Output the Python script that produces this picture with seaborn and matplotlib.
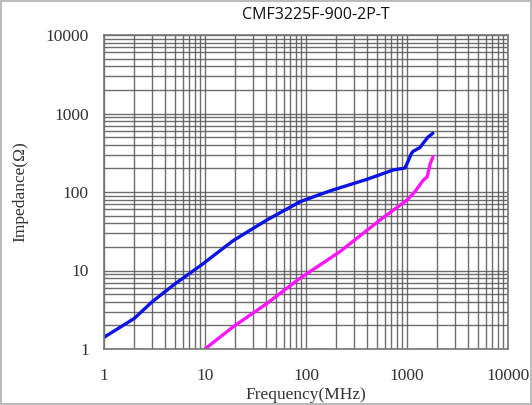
import matplotlib
matplotlib.use("Agg")
import matplotlib.pyplot as plt
import seaborn as sns
import pandas as pd
from matplotlib.ticker import LogLocator, FixedLocator, NullFormatter

title = "CMF3225F-900-2P-T"
x_label = "Frequency(MHz)"
y_label = "Impedance(Ω)"

blue_freq = [1, 1.5, 2, 3, 5, 9, 19, 41, 87, 137, 184, 401, 731, 953, 1030, 1100, 1143, 1348, 1450, 1618, 1805]
blue_imp = [1.41, 1.95, 2.46, 4.0, 6.7, 11.5, 24, 44, 75, 93, 106, 145, 191, 202, 250, 305, 328, 370, 421, 503, 560]

mag_freq = [10, 19, 41, 87, 217, 540, 1000, 1200, 1450, 1580, 1700, 1805]
mag_imp = [1.0, 1.92, 3.8, 7.95, 17.4, 44, 79, 101, 142, 155, 230, 279]

x_ticks = [1, 10, 100, 1000, 10000]
x_tick_labels = ["1", "10", "100", "1000", "10000"]
y_ticks = [1, 10, 100, 1000, 10000]
y_tick_labels = ["1", "10", "100", "1000", "10000"]

sns.set_style("white")
plt.rcParams['font.family'] = ['Liberation Serif', 'DejaVu Serif']

fig = plt.figure(figsize=(5.32, 4.05), dpi=100)
fig.patch.set_edgecolor("#bbbbbb")
fig.patch.set_linewidth(1.5)
ax = fig.add_axes([104/532, (405-349)/405, 404/532, 314/405])

df_b = pd.DataFrame({"f": blue_freq, "z": blue_imp})
df_m = pd.DataFrame({"f": mag_freq, "z": mag_imp})

ax.set_xscale("log")
ax.set_yscale("log")
ax.set_xlim(1, 10000)
ax.set_ylim(1, 10000)

ax.xaxis.set_minor_locator(LogLocator(base=10, subs=range(2, 10)))
ax.yaxis.set_minor_locator(LogLocator(base=10, subs=range(2, 10)))
ax.xaxis.set_minor_formatter(NullFormatter())
ax.yaxis.set_minor_formatter(NullFormatter())
ax.xaxis.set_major_locator(FixedLocator(x_ticks))
ax.yaxis.set_major_locator(FixedLocator(y_ticks))
ax.set_xticklabels(x_tick_labels)
ax.set_yticklabels(y_tick_labels)

ax.grid(True, which="both", color="#555555", linewidth=1.0, alpha=0.85)
ax.set_axisbelow(True)

sns.lineplot(data=df_b, x="f", y="z", ax=ax, color="#0a14e6", linewidth=2.4,
             estimator=None, sort=False)
sns.lineplot(data=df_m, x="f", y="z", ax=ax, color="#ff14ff", linewidth=2.4,
             estimator=None, sort=False)
for ln in ax.lines:
    ln.set_solid_joinstyle("round")
    ln.set_solid_capstyle("round")

ax.set_xlim(1, 10000)
ax.set_ylim(1, 10000)

for s in ax.spines.values():
    s.set_color("#777777")
    s.set_linewidth(1.2)

ax.tick_params(axis="both", which="both", length=0, labelsize=12.5, labelcolor="#333333")
ax.tick_params(axis="x", pad=14)
ax.tick_params(axis="y", pad=11)

ax.set_xlabel(x_label, fontsize=12.5, color="#333333", labelpad=2)
ax.set_ylabel(y_label, fontsize=12.5, color="#333333", labelpad=12)

fig.text(316/532, 1 - 15/405, title, ha="center", va="center", fontsize=11.5,
         family=["Open Sans", "DejaVu Sans"], color="#111111")

fig.savefig("out.png", dpi=100)
